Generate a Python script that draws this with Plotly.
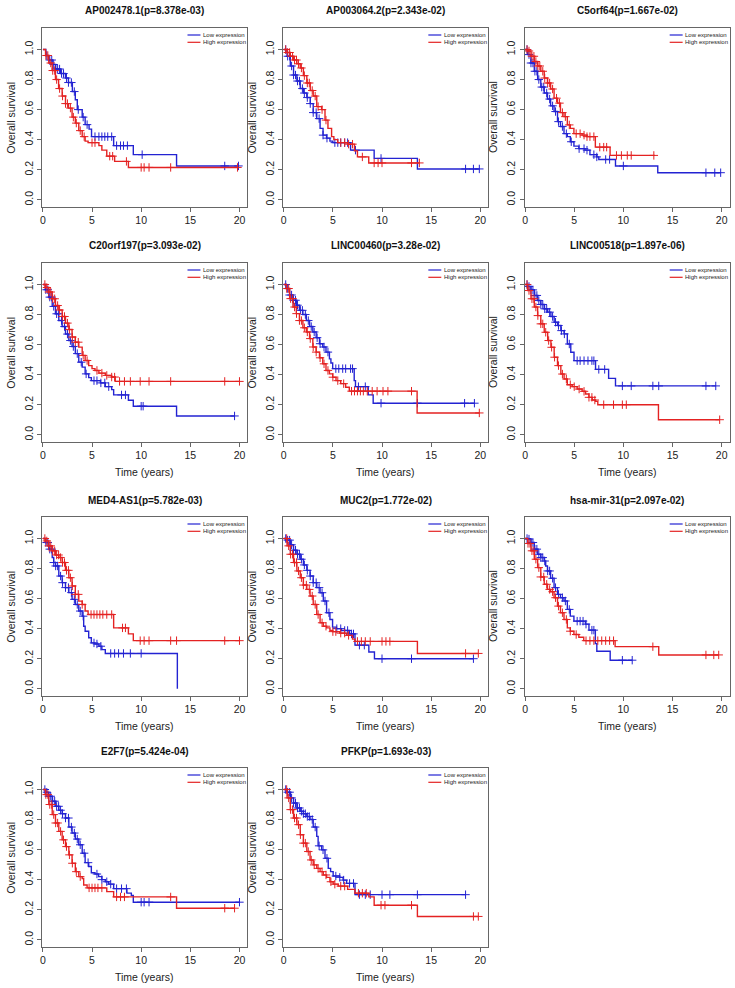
import numpy as np
import plotly.graph_objects as go

# ---------------- data ----------------
genes = ["AP002478.1", "AP003064.2", "C5orf64", "C20orf197", "LINC00460", "LINC00518",
         "MED4-AS1", "MUC2", "hsa-mir-31", "E2F7", "PFKP"]
pvalues = ["8.378e-03", "2.343e-02", "1.667e-02", "3.093e-02", "3.28e-02", "1.897e-06",
           "5.782e-03", "1.772e-02", "2.097e-02", "5.424e-04", "1.693e-03"]
legend_labels = ["Low expression", "High expression"]
x_ticks = [0, 5, 10, 15, 20]
y_ticks = [0.0, 0.2, 0.4, 0.6, 0.8, 1.0]
y_ticklabels = ["0.0", "0.2", "0.4", "0.6", "0.8", "1.0"]

# Panel 1: AP002478.1
p1_low_t = [0, 0.3, 0.6, 0.95, 1.3, 1.8, 2.3, 2.6, 3.0, 3.3, 3.5, 4.0, 4.3, 4.7, 4.95, 7.2, 9.2, 13.6, 19.9]
p1_low_s = [1.0, 0.96, 0.93, 0.90, 0.87, 0.84, 0.81, 0.78, 0.72, 0.665, 0.60, 0.55, 0.50, 0.47, 0.42, 0.36, 0.30, 0.225, 0.225]
p1_low_c = [0.4, 0.7, 0.9, 1.1, 1.3, 1.5, 1.7, 1.9, 2.1, 2.4, 2.6, 2.9, 3.2, 3.6, 4.1, 4.5, 5.3, 5.7, 6.0, 6.3, 6.6, 7.0, 7.5, 7.9, 8.2, 8.6, 10.1, 18.5, 19.9]
p1_high_t = [0, 0.27, 0.6, 0.95, 1.28, 1.6, 1.96, 2.3, 2.6, 2.97, 3.3, 3.65, 4.0, 4.3, 4.6, 5.7, 6.0, 6.5, 7.3, 8.7, 19.8]
p1_high_s = [1.0, 0.96, 0.91, 0.86, 0.80, 0.74, 0.69, 0.64, 0.61, 0.55, 0.51, 0.46, 0.42, 0.39, 0.38, 0.36, 0.33, 0.29, 0.255, 0.215, 0.215]
p1_high_c = [0.3, 0.5, 0.8, 1.0, 1.2, 1.4, 1.7, 2.0, 2.3, 2.5, 2.8, 3.1, 3.4, 3.8, 4.2, 5.0, 5.3, 6.8, 7.1, 8.5, 10.0, 10.3, 10.8, 13.0, 19.8]

# Panel 2: AP003064.2
p2_low_t = [0, 0.34, 0.67, 1.0, 1.34, 1.68, 2.0, 2.35, 2.7, 3.0, 3.36, 3.7, 4.0, 4.36, 4.7, 5.0, 6.8, 9.2, 13.6, 19.9]
p2_low_s = [1.0, 0.955, 0.89, 0.83, 0.79, 0.74, 0.71, 0.68, 0.64, 0.58, 0.54, 0.475, 0.43, 0.41, 0.39, 0.38, 0.33, 0.275, 0.205, 0.205]
p2_low_c = [0.2, 0.4, 0.6, 0.8, 1.0, 1.2, 1.4, 1.6, 1.9, 2.1, 2.4, 2.7, 3.0, 3.3, 3.6, 4.0, 4.4, 5.2, 5.5, 5.8, 6.2, 6.5, 7.3, 9.9, 18.5, 19.3, 19.9]
p2_high_t = [0, 0.34, 0.67, 1.0, 1.34, 1.68, 2.0, 2.35, 2.7, 3.0, 3.36, 3.86, 4.2, 4.5, 4.87, 5.1, 5.5, 6.5, 7.2, 7.5, 8.65, 13.8]
p2_high_s = [1.0, 0.98, 0.955, 0.93, 0.905, 0.877, 0.826, 0.777, 0.727, 0.69, 0.62, 0.60, 0.53, 0.475, 0.42, 0.40, 0.38, 0.37, 0.325, 0.285, 0.245, 0.245]
p2_high_c = [0.2, 0.4, 0.6, 0.9, 1.1, 1.3, 1.5, 1.8, 2.1, 2.4, 2.6, 2.9, 3.2, 3.5, 3.9, 4.3, 5.8, 6.2, 6.6, 7.0, 8.0, 9.2, 9.6, 10.0, 13.0, 13.8]

# Panel 3: C5orf64
p3_low_t = [0, 0.27, 0.6, 0.94, 1.28, 1.6, 1.95, 2.28, 2.6, 2.95, 3.3, 3.6, 3.96, 4.3, 4.6, 4.97, 5.47, 6.1, 6.6, 7.3, 7.5, 9.2, 13.5, 19.9]
p3_low_s = [1.0, 0.966, 0.91, 0.855, 0.80, 0.75, 0.71, 0.67, 0.625, 0.587, 0.52, 0.487, 0.44, 0.42, 0.386, 0.357, 0.34, 0.33, 0.30, 0.285, 0.268, 0.225, 0.18, 0.18]
p3_low_c = [0.2, 0.4, 0.6, 0.8, 1.0, 1.2, 1.4, 1.7, 1.9, 2.2, 2.5, 2.8, 3.1, 3.4, 3.8, 4.2, 4.7, 5.5, 6.0, 6.3, 7.0, 7.3, 8.2, 8.6, 10.0, 18.4, 19.3, 19.9]
p3_high_t = [0, 0.27, 0.6, 0.94, 1.28, 1.6, 1.95, 2.28, 2.6, 2.95, 3.3, 3.6, 3.96, 4.3, 4.6, 4.97, 5.8, 6.3, 7.15, 8.65, 13.2]
p3_high_s = [1.0, 0.99, 0.955, 0.92, 0.89, 0.855, 0.81, 0.777, 0.737, 0.676, 0.643, 0.58, 0.553, 0.498, 0.475, 0.44, 0.43, 0.42, 0.35, 0.295, 0.295]
p3_high_c = [0.2, 0.4, 0.7, 0.9, 1.1, 1.3, 1.5, 1.8, 2.0, 2.3, 2.5, 2.8, 3.2, 3.5, 3.8, 4.1, 4.5, 5.2, 5.6, 6.0, 6.3, 6.6, 7.0, 7.6, 8.0, 8.3, 9.3, 9.8, 10.4, 10.8, 13.1]

# Panel 4: C20orf197
p4_low_t = [0, 0.27, 0.6, 0.95, 1.28, 1.62, 1.96, 2.3, 2.64, 2.97, 3.3, 3.65, 4.0, 4.3, 4.66, 4.93, 5.85, 6.35, 7.0, 7.2, 8.7, 9.2, 13.6, 19.5]
p4_low_s = [1.0, 0.965, 0.916, 0.854, 0.805, 0.76, 0.72, 0.67, 0.627, 0.587, 0.54, 0.483, 0.45, 0.405, 0.38, 0.36, 0.345, 0.32, 0.30, 0.265, 0.23, 0.19, 0.125, 0.125]
p4_low_c = [0.3, 0.5, 0.7, 0.9, 1.1, 1.4, 1.6, 1.9, 2.2, 2.5, 2.8, 3.1, 3.5, 3.9, 4.4, 5.2, 5.5, 5.9, 6.3, 6.7, 8.0, 8.4, 10.0, 10.2, 19.5]
p4_high_t = [0, 0.27, 0.6, 0.95, 1.28, 1.62, 1.96, 2.3, 2.64, 2.97, 3.3, 3.65, 4.0, 4.3, 4.66, 5.0, 5.3, 5.7, 6.35, 7.0, 7.36, 20.0]
p4_high_s = [1.0, 0.98, 0.95, 0.905, 0.86, 0.83, 0.787, 0.743, 0.70, 0.65, 0.616, 0.583, 0.528, 0.494, 0.46, 0.44, 0.428, 0.41, 0.395, 0.384, 0.355, 0.355]
p4_high_c = [0.2, 0.4, 0.6, 0.8, 1.0, 1.2, 1.5, 1.7, 2.0, 2.2, 2.5, 2.7, 3.0, 3.3, 3.6, 4.1, 4.5, 5.5, 6.0, 6.5, 7.0, 7.3, 7.8, 8.3, 8.9, 9.9, 10.8, 13.0, 18.5, 20.0]

# Panel 5: LINC00460
p5_low_t = [0, 0.27, 0.6, 0.94, 1.28, 1.6, 1.95, 2.3, 2.63, 2.96, 3.3, 3.64, 3.97, 4.3, 4.65, 4.8, 4.98, 7.17, 7.3, 8.6, 9.1, 19.4]
p5_low_s = [1.0, 0.973, 0.93, 0.895, 0.862, 0.828, 0.80, 0.76, 0.72, 0.684, 0.646, 0.606, 0.584, 0.55, 0.505, 0.477, 0.44, 0.36, 0.32, 0.265, 0.21, 0.21]
p5_low_c = [0.2, 0.4, 0.6, 0.8, 1.0, 1.2, 1.4, 1.7, 1.9, 2.2, 2.5, 2.8, 3.1, 3.4, 3.7, 4.1, 4.5, 5.3, 5.6, 6.0, 6.3, 6.8, 7.0, 7.6, 8.3, 9.9, 13.6, 18.4, 19.4]
p5_high_t = [0, 0.27, 0.6, 0.94, 1.28, 1.6, 1.95, 2.3, 2.63, 2.96, 3.3, 3.64, 3.97, 4.3, 4.65, 4.98, 5.32, 5.8, 6.3, 6.67, 13.57, 19.9]
p5_high_s = [1.0, 0.973, 0.906, 0.85, 0.806, 0.76, 0.712, 0.684, 0.64, 0.584, 0.55, 0.512, 0.472, 0.428, 0.405, 0.383, 0.36, 0.34, 0.316, 0.29, 0.145, 0.145]
p5_high_c = [0.3, 0.5, 0.7, 0.9, 1.1, 1.3, 1.6, 1.8, 2.1, 2.4, 2.7, 3.0, 3.3, 3.7, 4.1, 4.5, 5.0, 5.5, 6.1, 6.9, 7.2, 7.5, 7.8, 8.1, 8.5, 9.0, 9.5, 10.1, 10.6, 13.0, 19.9]

# Panel 6: LINC00518
p6_low_t = [0, 0.27, 0.6, 0.94, 1.28, 1.6, 1.95, 2.3, 2.63, 2.96, 3.3, 3.64, 3.97, 4.3, 4.65, 4.98, 7.17, 8.5, 9.2, 19.4]
p6_low_s = [1.0, 0.987, 0.964, 0.927, 0.893, 0.867, 0.838, 0.816, 0.787, 0.749, 0.727, 0.693, 0.671, 0.604, 0.549, 0.493, 0.435, 0.375, 0.325, 0.325]
p6_low_c = [0.2, 0.4, 0.6, 0.8, 1.0, 1.2, 1.4, 1.6, 1.8, 2.0, 2.2, 2.5, 2.8, 3.1, 3.4, 3.7, 4.0, 4.5, 5.3, 5.6, 6.0, 6.4, 6.8, 7.0, 7.5, 8.1, 9.9, 10.8, 13.0, 13.6, 18.4, 19.4]
p6_high_t = [0, 0.27, 0.6, 0.94, 1.28, 1.6, 1.95, 2.3, 2.63, 2.96, 3.3, 3.64, 3.97, 4.3, 4.8, 5.3, 5.8, 6.16, 6.5, 6.83, 7.17, 7.4, 13.57, 19.8]
p6_high_s = [1.0, 0.96, 0.905, 0.85, 0.793, 0.738, 0.682, 0.627, 0.582, 0.516, 0.46, 0.404, 0.371, 0.333, 0.32, 0.304, 0.289, 0.271, 0.249, 0.231, 0.222, 0.20, 0.10, 0.10]
p6_high_c = [0.2, 0.4, 0.7, 0.9, 1.1, 1.3, 1.6, 1.8, 2.1, 2.4, 2.7, 3.0, 3.4, 3.8, 4.2, 4.6, 5.0, 5.5, 6.0, 6.5, 6.8, 7.1, 8.0, 9.0, 9.9, 10.3, 19.8]

# Panel 7: MED4-AS1
p7_low_t = [0, 0.27, 0.6, 0.95, 1.1, 1.28, 1.62, 1.96, 2.3, 2.64, 2.97, 3.3, 3.65, 4.0, 4.15, 4.3, 4.66, 4.93, 5.3, 5.7, 6.0, 6.35, 13.68]
p7_low_s = [1.0, 0.973, 0.929, 0.873, 0.84, 0.817, 0.75, 0.706, 0.673, 0.64, 0.595, 0.561, 0.517, 0.483, 0.416, 0.383, 0.339, 0.305, 0.298, 0.283, 0.26, 0.235, 0.0]
p7_low_c = [0.3, 0.5, 0.7, 0.9, 1.1, 1.3, 1.5, 1.8, 2.0, 2.3, 2.6, 2.9, 3.2, 3.5, 3.8, 4.1, 5.2, 5.5, 5.9, 6.9, 7.3, 7.7, 8.2, 8.9, 10.0]
p7_high_t = [0, 0.27, 0.6, 0.95, 1.28, 1.62, 1.96, 2.3, 2.64, 2.97, 3.3, 3.65, 4.0, 4.3, 4.6, 7.2, 8.7, 9.2, 20.0]
p7_high_s = [1.0, 0.984, 0.951, 0.918, 0.89, 0.873, 0.84, 0.788, 0.739, 0.684, 0.628, 0.583, 0.561, 0.517, 0.494, 0.405, 0.365, 0.32, 0.32]
p7_high_c = [0.2, 0.4, 0.6, 0.8, 1.0, 1.2, 1.4, 1.6, 1.8, 2.0, 2.2, 2.4, 2.6, 2.8, 3.0, 3.3, 3.6, 4.0, 4.9, 5.2, 5.5, 5.8, 6.1, 6.5, 7.0, 8.1, 8.4, 9.9, 10.3, 10.8, 13.0, 13.6, 18.5, 20.0]

# Panel 8: MUC2
p8_low_t = [0, 0.34, 0.67, 1.0, 1.34, 1.68, 2.0, 2.35, 2.68, 3.0, 3.36, 3.7, 4.03, 4.36, 4.7, 4.97, 5.37, 5.87, 6.7, 7.25, 8.66, 9.23, 19.3]
p8_low_s = [1.0, 0.989, 0.958, 0.922, 0.895, 0.862, 0.824, 0.788, 0.75, 0.706, 0.673, 0.639, 0.584, 0.506, 0.461, 0.41, 0.40, 0.388, 0.365, 0.29, 0.245, 0.20, 0.20]
p8_low_c = [0.2, 0.4, 0.6, 0.8, 1.0, 1.2, 1.4, 1.6, 1.8, 2.1, 2.4, 2.7, 3.0, 3.3, 3.6, 3.9, 4.2, 4.6, 5.4, 5.8, 6.2, 6.5, 6.9, 7.1, 7.7, 8.2, 10.0, 13.0, 19.3]
p8_high_t = [0, 0.34, 0.67, 1.0, 1.34, 1.68, 2.0, 2.35, 2.68, 3.0, 3.36, 3.7, 4.03, 4.36, 4.7, 5.0, 5.7, 6.4, 7.0, 7.25, 13.6, 19.8]
p8_high_s = [1.0, 0.951, 0.895, 0.84, 0.784, 0.739, 0.69, 0.661, 0.617, 0.561, 0.494, 0.439, 0.416, 0.405, 0.388, 0.38, 0.37, 0.355, 0.33, 0.315, 0.235, 0.235]
p8_high_c = [0.3, 0.5, 0.7, 0.9, 1.1, 1.3, 1.5, 1.8, 2.0, 2.3, 2.6, 2.9, 3.2, 3.5, 3.9, 4.3, 5.0, 5.3, 5.8, 6.2, 6.6, 7.5, 7.9, 8.3, 8.8, 10.0, 10.4, 10.8, 18.5, 19.8]

# Panel 9: hsa-mir-31
p9_low_t = [0, 0.27, 0.6, 0.94, 1.28, 1.6, 1.95, 2.1, 2.28, 2.6, 2.95, 3.3, 3.6, 3.96, 4.3, 4.6, 4.97, 6.14, 6.5, 7.15, 7.3, 8.66, 10.9]
p9_low_s = [1.0, 0.996, 0.973, 0.929, 0.895, 0.873, 0.85, 0.817, 0.784, 0.735, 0.673, 0.628, 0.606, 0.584, 0.528, 0.483, 0.45, 0.43, 0.39, 0.30, 0.25, 0.19, 0.19]
p9_low_c = [0.2, 0.4, 0.6, 0.8, 1.0, 1.2, 1.4, 1.6, 1.8, 2.0, 2.3, 2.5, 2.8, 3.1, 3.4, 3.8, 4.1, 4.5, 5.3, 5.6, 5.9, 6.2, 6.8, 7.0, 9.9, 10.9]
p9_high_t = [0, 0.27, 0.6, 0.94, 1.28, 1.6, 1.95, 2.28, 2.6, 2.95, 3.3, 3.6, 3.96, 4.3, 4.6, 4.97, 5.47, 5.97, 9.16, 13.6, 19.7]
p9_high_s = [1.0, 0.967, 0.918, 0.862, 0.806, 0.744, 0.695, 0.661, 0.646, 0.606, 0.55, 0.506, 0.461, 0.405, 0.383, 0.361, 0.343, 0.32, 0.28, 0.225, 0.225]
p9_high_c = [0.3, 0.5, 0.7, 0.9, 1.1, 1.4, 1.6, 1.9, 2.2, 2.5, 2.8, 3.1, 3.4, 3.8, 4.2, 4.6, 5.2, 6.2, 6.6, 7.0, 7.4, 7.8, 8.2, 8.6, 9.0, 13.0, 18.4, 19.2, 19.7]

# Panel 10: E2F7
p10_low_t = [0, 0.27, 0.6, 0.95, 1.28, 1.62, 1.96, 2.3, 2.64, 2.97, 3.3, 3.65, 4.0, 4.3, 4.66, 4.93, 5.3, 5.67, 6.0, 6.35, 6.7, 7.2, 8.55, 9.0, 9.2, 20.0]
p10_low_s = [1.0, 0.982, 0.955, 0.922, 0.888, 0.862, 0.839, 0.81, 0.75, 0.71, 0.67, 0.632, 0.576, 0.513, 0.487, 0.446, 0.4375, 0.42, 0.40, 0.386, 0.37, 0.34, 0.31, 0.295, 0.25, 0.25]
p10_low_c = [0.2, 0.4, 0.6, 0.8, 1.0, 1.2, 1.4, 1.6, 1.8, 2.0, 2.3, 2.6, 2.9, 3.2, 3.5, 3.8, 4.2, 4.6, 5.5, 6.0, 6.5, 6.9, 7.5, 8.0, 8.5, 10.0, 10.3, 10.8, 20.0]
p10_high_t = [0, 0.27, 0.6, 0.95, 1.28, 1.62, 1.96, 2.3, 2.64, 2.97, 3.3, 3.65, 4.0, 4.15, 4.5, 6.5, 7.2, 13.6, 19.5]
p10_high_s = [1.0, 0.966, 0.90, 0.833, 0.777, 0.721, 0.665, 0.62, 0.565, 0.509, 0.453, 0.42, 0.408, 0.364, 0.345, 0.32, 0.285, 0.21, 0.21]
p10_high_c = [0.3, 0.5, 0.7, 0.9, 1.1, 1.3, 1.5, 1.8, 2.1, 2.4, 2.7, 3.0, 3.4, 3.8, 4.7, 5.0, 5.3, 5.6, 6.0, 7.5, 7.9, 8.3, 13.0, 18.5, 19.5]

# Panel 11: PFKP
p11_low_t = [0, 0.34, 0.67, 1.0, 1.34, 1.68, 2.0, 2.35, 2.68, 3.0, 3.36, 3.5, 3.86, 4.2, 4.53, 4.77, 5.03, 5.7, 6.04, 6.4, 7.25, 18.5]
p11_low_s = [1.0, 0.982, 0.944, 0.91, 0.877, 0.855, 0.839, 0.82, 0.80, 0.75, 0.688, 0.625, 0.598, 0.542, 0.475, 0.453, 0.424, 0.415, 0.397, 0.375, 0.30, 0.30]
p11_low_c = [0.2, 0.4, 0.6, 0.8, 1.0, 1.2, 1.4, 1.6, 1.8, 2.0, 2.2, 2.4, 2.6, 2.9, 3.2, 3.6, 4.0, 4.4, 5.3, 5.7, 6.1, 6.7, 7.1, 7.7, 8.3, 8.8, 10.0, 10.8, 13.6, 18.5]
p11_high_t = [0, 0.34, 0.67, 1.0, 1.34, 1.68, 2.0, 2.35, 2.68, 3.0, 3.36, 3.7, 4.03, 4.36, 4.7, 5.03, 5.54, 6.5, 7.25, 8.66, 9.2, 13.6, 19.8]
p11_high_s = [1.0, 0.944, 0.866, 0.81, 0.766, 0.699, 0.643, 0.587, 0.531, 0.498, 0.475, 0.453, 0.431, 0.415, 0.386, 0.37, 0.357, 0.335, 0.31, 0.285, 0.23, 0.155, 0.155]
p11_high_c = [0.3, 0.5, 0.7, 0.9, 1.1, 1.3, 1.5, 1.7, 2.0, 2.2, 2.5, 2.8, 3.1, 3.5, 3.9, 4.3, 4.8, 5.2, 5.8, 6.2, 7.6, 8.0, 8.4, 9.9, 10.3, 13.0, 19.3, 19.8]

panels = [
    (p1_low_t, p1_low_s, p1_low_c, p1_high_t, p1_high_s, p1_high_c),
    (p2_low_t, p2_low_s, p2_low_c, p2_high_t, p2_high_s, p2_high_c),
    (p3_low_t, p3_low_s, p3_low_c, p3_high_t, p3_high_s, p3_high_c),
    (p4_low_t, p4_low_s, p4_low_c, p4_high_t, p4_high_s, p4_high_c),
    (p5_low_t, p5_low_s, p5_low_c, p5_high_t, p5_high_s, p5_high_c),
    (p6_low_t, p6_low_s, p6_low_c, p6_high_t, p6_high_s, p6_high_c),
    (p7_low_t, p7_low_s, p7_low_c, p7_high_t, p7_high_s, p7_high_c),
    (p8_low_t, p8_low_s, p8_low_c, p8_high_t, p8_high_s, p8_high_c),
    (p9_low_t, p9_low_s, p9_low_c, p9_high_t, p9_high_s, p9_high_c),
    (p10_low_t, p10_low_s, p10_low_c, p10_high_t, p10_high_s, p10_high_c),
    (p11_low_t, p11_low_s, p11_low_c, p11_high_t, p11_high_s, p11_high_c),
]

# ---------------- layout / style ----------------
FIG_W, FIG_H = 735, 988
col_left = [40.5, 282.0, 524.0]
row_top = [28.0, 263.0, 517.0, 768.0]
box_w, box_h = 205.5, 178.5
FONT = "Liberation Sans, Arial, Helvetica, sans-serif"
AX_COL = "#666666"
TXT_COL = "#222222"
BLUE = "#2323d2"
RED = "#e42222"


def px(x):
    return x / FIG_W


def py(y):
    return 1 - y / FIG_H


def surv_at(t, s, c):
    t = np.asarray(t)
    s = np.asarray(s)
    idx = np.searchsorted(t, np.asarray(c), side="right") - 1
    return s[idx]


fig = go.Figure()
annotations = []
shapes = []
layout_axes = {}

for i, (lt, ls, lc, ht, hs, hc) in enumerate(panels):
    r, c = divmod(i, 3)
    L, T = col_left[c], row_top[r]
    xa = "x" if i == 0 else f"x{i + 1}"
    ya = "y" if i == 0 else f"y{i + 1}"
    for (t, s, cens, col) in [(lt, ls, lc, BLUE), (ht, hs, hc, RED)]:
        fig.add_trace(go.Scatter(x=t, y=s, mode="lines", line=dict(color=col, width=1.4, shape="hv"),
                                 xaxis=xa, yaxis=ya, showlegend=False, hoverinfo="skip"))
        fig.add_trace(go.Scatter(x=cens, y=surv_at(t, s, cens), mode="markers",
                                 marker=dict(symbol="cross-thin", size=6, line=dict(color=col, width=1)),
                                 xaxis=xa, yaxis=ya, showlegend=False, hoverinfo="skip"))

    xname = "xaxis" if i == 0 else f"xaxis{i + 1}"
    yname = "yaxis" if i == 0 else f"yaxis{i + 1}"
    layout_axes[xname] = dict(
        domain=[px(L), px(L + box_w)], anchor=ya, range=[-0.05, 20.8],
        tickvals=x_ticks, ticks="outside", ticklen=4, tickwidth=1, tickcolor=AX_COL,
        showline=True, mirror=True, linecolor=AX_COL, linewidth=1,
        showgrid=False, zeroline=False, tickfont=dict(family=FONT, size=10.5, color=TXT_COL))
    layout_axes[yname] = dict(
        domain=[py(T + box_h), py(T)], anchor=xa, range=[-0.045, 1.143],
        tickvals=y_ticks, ticktext=y_ticklabels, tickangle=-90,
        ticks="outside", ticklen=4, tickwidth=1, tickcolor=AX_COL,
        showline=True, mirror=True, linecolor=AX_COL, linewidth=1,
        showgrid=False, zeroline=False, tickfont=dict(family=FONT, size=10.5, color=TXT_COL))

    cx = L + box_w / 2
    annotations.append(dict(x=px(cx), y=py(T - 17), xref="paper", yref="paper",
                            text=f"<b>{genes[i]}(p={pvalues[i]})</b>", showarrow=False,
                            font=dict(family=FONT, size=10, color="#111111"),
                            xanchor="center", yanchor="middle"))
    annotations.append(dict(x=px(L - 31), y=py(T + box_h / 2), xref="paper", yref="paper",
                            text="Overall survival", textangle=-90, showarrow=False,
                            font=dict(family=FONT, size=10.5, color=TXT_COL),
                            xanchor="center", yanchor="middle"))
    if r > 0:
        annotations.append(dict(x=px(cx), y=py(T + box_h + 30), xref="paper", yref="paper",
                                text="Time (years)", showarrow=False,
                                font=dict(family=FONT, size=10.5, color=TXT_COL),
                                xanchor="center", yanchor="middle"))
    # legend (top right inside the box)
    for k, (lab, col) in enumerate(zip(legend_labels, [BLUE, RED])):
        yy = T + 7 + k * 7.3
        shapes.append(dict(type="line", xref="paper", yref="paper",
                           x0=px(L + box_w - 60), x1=px(L + box_w - 47), y0=py(yy), y1=py(yy),
                           line=dict(color=col, width=1.2)))
        annotations.append(dict(x=px(L + box_w - 45.5), y=py(yy), xref="paper", yref="paper",
                                text=lab, showarrow=False, borderpad=0,
                                font=dict(family=FONT, size=6, color=TXT_COL),
                                xanchor="left", yanchor="middle"))

fig.update_layout(
    width=FIG_W, height=FIG_H, margin=dict(l=0, r=0, t=0, b=0),
    paper_bgcolor="white", plot_bgcolor="white", showlegend=False,
    annotations=annotations, shapes=shapes, **layout_axes)

fig.write_html("out.html", config={"displayModeBar": False},
               post_script="document.body.style.margin='0px';document.body.style.padding='0px';"
                           "document.body.style.overflow='hidden';")
